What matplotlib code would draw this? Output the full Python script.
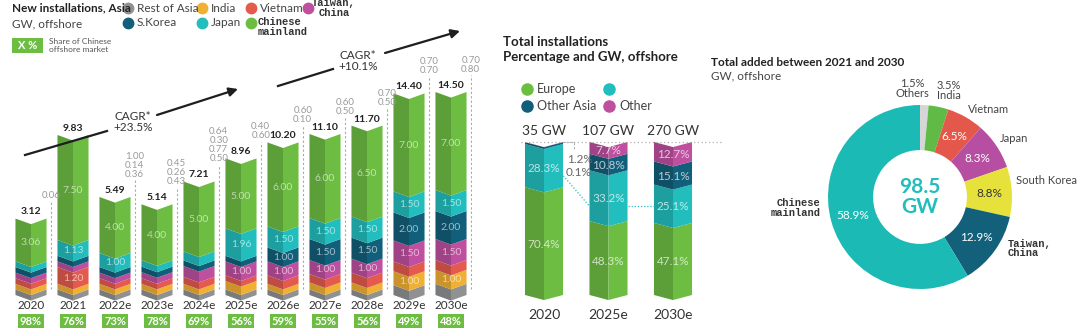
import matplotlib.pyplot as plt
import numpy as np
from matplotlib.colors import to_rgb
from matplotlib.lines import Line2D
from matplotlib.patches import Polygon, Rectangle

plt.rcParams["font.family"] = ["Lato", "DejaVu Sans"]
MONO = ["Liberation Mono", "DejaVu Sans Mono"]

# ---- left: new installations in Asia, GW offshore ----
years = ["2020", "2021", "2022e", "2023e", "2024e", "2025e",
         "2026e", "2027e", "2028e", "2029e", "2030e"]
totals = [3.12, 9.83, 5.49, 5.14, 7.21, 8.96, 10.20, 11.10, 11.70, 14.40, 14.50]
china_share = ["98%", "76%", "73%", "78%", "69%", "56%", "59%", "55%", "56%", "49%", "48%"]
# stacked bottom -> top
rest_of_asia = [0, 0, 0, 0, 0, 0, 0, 0, 0, 0.70, 0.80]
india = [0, 0, 0, 0, 0, 0.60, 0.10, 0.50, 0.50, 1.00, 1.00]
vietnam = [0, 1.20, 0, 0, 0.50, 0.40, 0.60, 0.60, 0.70, 0.70, 0.70]
taiwan = [0.06, 0, 0.36, 0.43, 0.77, 1.00, 1.00, 1.00, 1.00, 1.50, 1.50]
s_korea = [0, 0, 0.14, 0.26, 0.30, 0, 1.00, 1.50, 1.50, 2.00, 2.00]
japan = [0, 1.13, 1.00, 0.45, 0.64, 1.96, 1.50, 1.50, 1.50, 1.50, 1.50]
mainland = [3.06, 7.50, 4.00, 4.00, 5.00, 5.00, 6.00, 6.00, 6.50, 7.00, 7.00]
# small values written beside each bar, top -> bottom
side_notes = [["0.06"], [], ["1.00", "0.14", "0.36"], ["0.45", "0.26", "0.43"],
              ["0.64", "0.30", "0.77", "0.50"], ["0.40", "0.60"], ["0.60", "0.10"],
              ["0.60", "0.50"], ["0.70", "0.50"], ["0.70", "0.70"], ["0.70", "0.80"]]

# ---- middle: total installations, share of GW ----
snap_years = ["2020", "2025e", "2030e"]
snap_gw = [35, 107, 270]
europe = [70.4, 48.3, 47.1]
china_part = [28.3, 33.2, 25.1]
other_asia = [1.2, 10.8, 15.1]
other = [0.1, 7.7, 12.7]

# ---- right: total added 2021-2030 ----
pie_labels = ["Others", "India", "Vietnam", "Japan", "South Korea",
              "Taiwan,\nChina", "Chinese\nmainland"]
pie_shares = [1.5, 3.5, 6.5, 8.3, 8.8, 12.9, 58.9]
pie_total = 98.5

GRAY, ORANGE, RED = "#8f9193", "#f0b033", "#e45a4d"
MAGENTA, NAVY, TEAL, GREEN = "#bf4f9f", "#125f7b", "#22bdbd", "#6dbd43"
asia_series = [rest_of_asia, india, vietnam, taiwan, s_korea, japan, mainland]
asia_colors = [GRAY, ORANGE, RED, MAGENTA, NAVY, TEAL, GREEN]

W, H = 1080, 333
fig = plt.figure(figsize=(W / 100, H / 100), dpi=100)


def fx(x):
    return x / W


def fy(y):
    return 1 - y / H


def ftext(x, y, s, **kw):
    fig.text(fx(x), fy(y), s, **kw)


def dot(x, y, color, size=7.5):
    fig.add_artist(Line2D([fx(x)], [fy(y)], marker="o", ms=size, color=color,
                          lw=0, transform=fig.transFigure))


def chevron(ax, x, bottom, top, half, v, color):
    """Bar segment with a folded look: darker left half, V shaped edges."""
    dark = tuple(c * 0.84 for c in to_rgb(color))
    left = [(x - half, bottom), (x, bottom - v), (x, top - v), (x - half, top)]
    right = [(x, bottom - v), (x + half, bottom), (x + half, top), (x, top - v)]
    ax.add_patch(Polygon(left, closed=True, fc=dark, ec="none"))
    ax.add_patch(Polygon(right, closed=True, fc=color, ec="none"))


# ================= left panel =================
PX_PER_GW = 14.0
BASE_PX = 295
ax1 = fig.add_axes([fx(10), 0, 462 / W, 1])
ax1.set_xlim(-0.5, len(years) - 0.5)
ax1.set_ylim(-(H - BASE_PX) / PX_PER_GW, BASE_PX / PX_PER_GW)
ax1.axis("off")

MIN_SEG = 0.4  # thin shares are drawn with a minimum height, as in the source
V1 = 0.4
for i in range(len(years)):
    base = 0.0
    for vals, col in zip(asia_series, asia_colors):
        val = vals[i]
        h = max(val, MIN_SEG)
        chevron(ax1, i, base, base + h, 0.37, V1, col)
        if val >= 1:
            ax1.text(i, base + h / 2 - V1 / 2, f"{val:.2f}", ha="center", va="center",
                     fontsize=7.5, color="white", alpha=0.6)
        base += h
    ax1.text(i, base + 0.15, f"{totals[i]:.2f}", ha="center", va="bottom",
             fontsize=7.5, color="#222222", fontweight="bold")
    if side_notes[i]:
        nx = i + 0.47
        ax1.plot([nx, nx], [0.45, base + 1.2], color="#a8a8a8", lw=0.8,
                 ls=(0, (2, 2)))
        ax1.text(nx, base + 1.3, "\n".join(side_notes[i]), ha="center", va="bottom",
                 fontsize=7, color="#9a9a9a", linespacing=1.0)
    ax1.text(i, -0.72, years[i], ha="center", va="center", fontsize=8.5, color="#333333")
    ax1.add_patch(Rectangle((i - 0.31, -2.36), 0.62, 1.0, fc=GREEN, ec="none"))
    ax1.text(i, -1.86, china_share[i], ha="center", va="center", fontsize=8,
             color="white", fontweight="bold")

# title, key and legend
ftext(12, 8, "New installations, Asia", fontsize=8.5, fontweight="bold",
      color="#222222", va="center")
ftext(12, 24, "GW, offshore", fontsize=8.5, color="#444444", va="center")
fig.add_artist(Rectangle((fx(12), fy(53)), 31 / W, 15 / H, fc=GREEN, ec="none",
                         transform=fig.transFigure))
ftext(27.5, 45.5, "X %", fontsize=8, color="white", fontweight="bold",
      ha="center", va="center")
ftext(49, 41, "Share of Chinese", fontsize=6, color="#555555", va="center")
ftext(49, 50, "offshore market", fontsize=6, color="#555555", va="center")

legend_items = [(128, 8, GRAY, "Rest of Asia"), (202, 8, ORANGE, "India"),
                (251, 8, RED, "Vietnam"), (128, 23, NAVY, "S.Korea"),
                (202, 23, TEAL, "Japan")]
for x, y, c, s in legend_items:
    dot(x, y, c)
    ftext(x + 9, y, s, fontsize=8.5, color="#444444", va="center")
dot(308, 8, MAGENTA)
ftext(334, 8, "Taiwan,\nChina", fontsize=7.5, family=MONO, fontweight="bold",
      color="#333333", ha="center", va="center", linespacing=0.95)
dot(251, 23, GREEN)
ftext(258, 27, "Chinese\nmainland", fontsize=7.5, family=MONO, fontweight="bold",
      color="#333333", ha="left", va="center", linespacing=0.95)

# CAGR arrows
LINE = "#1e1e1e"
for (x1, y1), (x2, y2) in [((25, 155), (107, 131)), ((278, 86), (333, 69))]:
    fig.add_artist(Line2D([fx(x1), fx(x2)], [fy(y1), fy(y2)], color=LINE, lw=1.6,
                          transform=fig.transFigure))
for (x1, y1), (x2, y2) in [((157, 115), (238, 89)), ((385, 53), (460, 31))]:
    ax1.annotate("", xy=(fx(x2), fy(y2)), xycoords="figure fraction",
                 xytext=(fx(x1), fy(y1)), textcoords="figure fraction",
                 arrowprops=dict(arrowstyle="-|>", color=LINE, lw=1.6,
                                 mutation_scale=13, shrinkA=0, shrinkB=0),
                 annotation_clip=False)
ftext(133, 122, "CAGR*\n+23.5%", fontsize=8.5, color="#333333", ha="center",
      va="center", linespacing=0.95)
ftext(358, 61, "CAGR*\n+10.1%", fontsize=8.5, color="#333333", ha="center",
      va="center", linespacing=0.95)

# ================= middle panel =================
PX_PER_PCT = 1.53
ax2 = fig.add_axes([fx(511.75), 0, 193.5 / W, 1])
ax2.set_xlim(-0.5, 2.5)
ax2.set_ylim(-(H - BASE_PX) / PX_PER_PCT, BASE_PX / PX_PER_PCT)
ax2.axis("off")

V2 = 3.3
mid_series = [europe, china_part, other_asia, other]
mid_colors = [GREEN, TEAL, NAVY, MAGENTA]
teal_marks = []
for i in range(len(snap_years)):
    base = 0.0
    for k, (vals, col) in enumerate(zip(mid_series, mid_colors)):
        val = vals[i]
        chevron(ax2, i, base, base + val, 0.295, V2, col)
        if val >= 5:
            ax2.text(i, base + val / 2 - V2 * 0.6, f"{val:.1f}%", ha="center",
                     va="center", fontsize=8.5, color="white", alpha=0.7)
        if k == 1:
            teal_marks.append(base + val / 2 - 2 * V2)
        base += val
    ax2.text(i, 100 + 3.5, f"{snap_gw[i]} GW", ha="center", va="bottom",
             fontsize=10, color="#333333")
    ax2.text(i, -13, snap_years[i], ha="center", va="center", fontsize=10,
             color="#333333")

ax2.plot([-0.35, 2.75], [100, 100], color="#b0b0b0", lw=0.9, ls=(0, (1, 2)),
         clip_on=False)
ax2.plot([0.3, 0.47, 0.47], [100, 100, 95], color="#b0b0b0", lw=0.8, ls=(0, (2, 1.5)))
ax2.text(0.55, 88.5, f"{other_asia[0]}%", ha="center", va="center", fontsize=8.5,
         color="#666666")
ax2.text(0.53, 80, f"{other[0]}%", ha="center", va="center", fontsize=8.5,
         color="#666666")
ax2.plot([0.3, 0.7], [teal_marks[0], teal_marks[1]], color=TEAL, lw=0.9, ls=(0, (1, 1.5)))
ax2.plot([1.3, 1.7], [teal_marks[1], teal_marks[1]], color=TEAL, lw=0.9, ls=(0, (1, 1.5)))

ftext(503, 42, "Total installations", fontsize=9.5, fontweight="bold",
      color="#222222", va="center")
ftext(503, 57, "Percentage and GW, offshore", fontsize=9.5, fontweight="bold",
      color="#222222", va="center")
for x, y, c, s in [(527, 89, GREEN, "Europe"), (609, 89, TEAL, ""),
                   (527, 106, NAVY, "Other Asia"), (609, 106, MAGENTA, "Other")]:
    dot(x, y, c, 8)
    if s:
        ftext(x + 10, y, s, fontsize=9, color="#444444", va="center")

# ================= right panel =================
ftext(711, 63, "Total added between 2021 and 2030", fontsize=8.5, fontweight="bold",
      color="#222222", va="center")
ftext(711, 76, "GW, offshore", fontsize=8.5, color="#444444", va="center")

R = 92
ax3 = fig.add_axes([fx(920 - R), fy(197 + R), 2 * R / W, 2 * R / H])
pie_colors = ["#d6d6d6", "#5fbb46", "#e4584b", "#b64fa2", "#e7e23b", "#13607a", "#1cbab5"]
wedges, _ = ax3.pie(pie_shares, colors=pie_colors, startangle=90, counterclock=False,
                    radius=1, wedgeprops=dict(width=0.49, linewidth=0))
ax3.set_xlim(-1, 1)
ax3.set_ylim(-1, 1)
ax3.axis("off")

inner_colors = [None, None, "white", "white", "#333333", "white", "white"]
for w, share, c in zip(wedges, pie_shares, inner_colors):
    if c is None:
        continue
    ang = np.deg2rad((w.theta1 + w.theta2) / 2)
    ax3.text(0.755 * np.cos(ang), 0.755 * np.sin(ang), f"{share}%", ha="center",
             va="center", fontsize=8.5, color=c)

ax3.text(0, 0, f"{pie_total}\nGW", ha="center", va="center", fontsize=15,
         fontweight="bold", color=TEAL, linespacing=0.95)

outer = [
    (-0.08, 1.18, "center", f"{pie_shares[0]}%\n{pie_labels[0]}"),
    (0.31, 1.16, "center", f"{pie_shares[1]}%\n{pie_labels[1]}"),
    (0.74, 0.95, "center", pie_labels[2]),
    (1.02, 0.64, "center", pie_labels[3]),
    (1.04, 0.18, "left", pie_labels[4]),
]
for x, y, ha, s in outer:
    ax3.text(x, y, s, ha=ha, va="center", fontsize=8, color="#444444",
             linespacing=0.95)
ax3.text(0.95, -0.56, pie_labels[5], ha="left", va="center", fontsize=7.5, family=MONO,
         fontweight="bold", color="#333333", linespacing=0.95)
ax3.text(-1.08, -0.12, pie_labels[6], ha="right", va="center", fontsize=7.5, family=MONO,
         fontweight="bold", color="#333333", linespacing=0.95)

fig.savefig("out.png", dpi=100)
